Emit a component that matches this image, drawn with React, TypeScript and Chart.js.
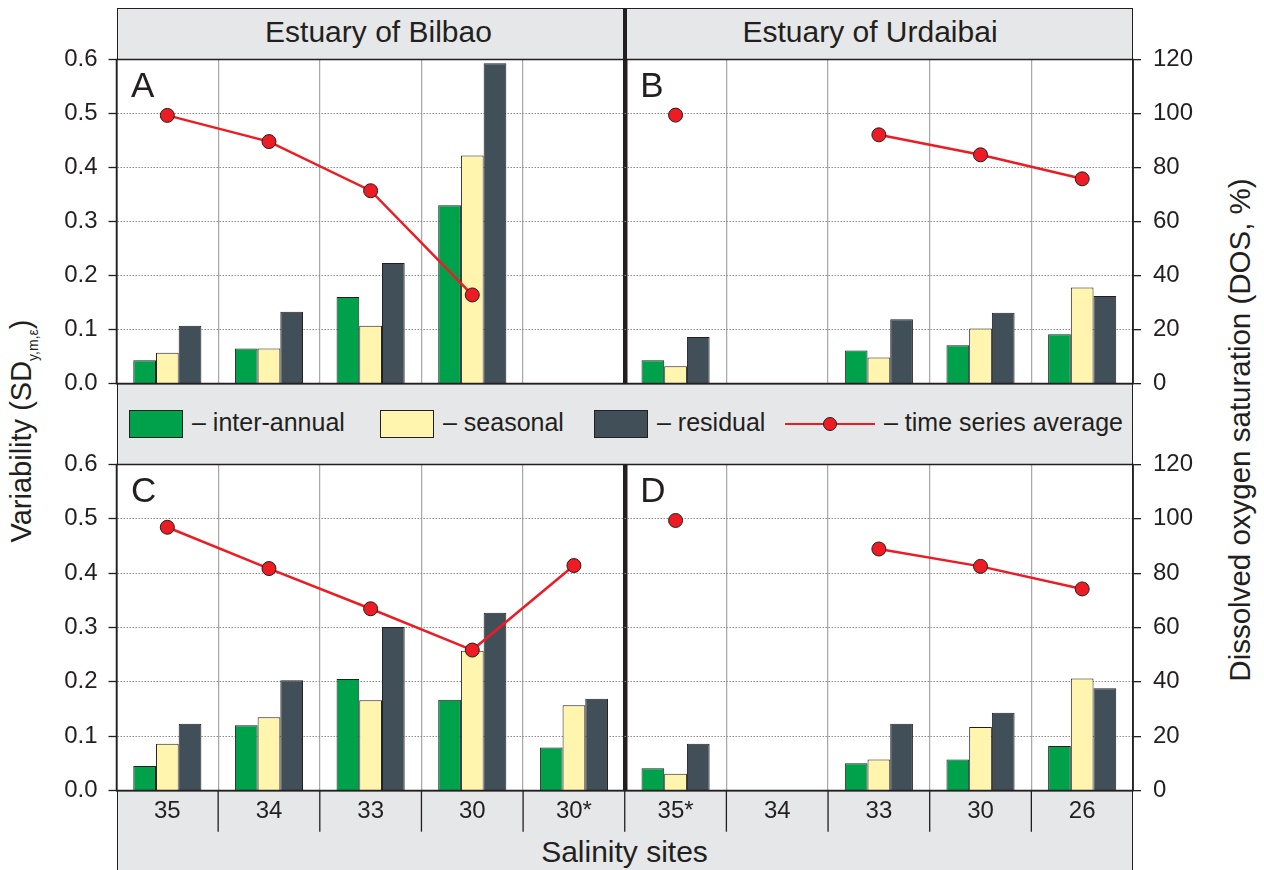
import React, { useEffect, useRef } from 'react';
import { Chart, registerables } from 'chart.js';

Chart.register(...registerables);

// ---------- data ----------
const sites = ['35', '34', '33', '30', '30*', '35*', '34', '33', '30', '26'];
const estuaries = ['Estuary of Bilbao', 'Estuary of Urdaibai'];
const seriesNames = ['inter-annual', 'seasonal', 'residual', 'time series average'];

// Panel A / B (top)
const interAnnualTop = [0.043, 0.065, 0.16, 0.33, null, 0.043, null, 0.061, 0.071, 0.091];
const seasonalTop = [0.057, 0.065, 0.107, 0.422, null, 0.032, null, 0.048, 0.102, 0.178];
const residualTop = [0.107, 0.133, 0.223, 0.593, null, 0.086, null, 0.119, 0.131, 0.162];
const dosBilbaoTop = [99.3, 89.6, 71.4, 32.8, null];
const dosUrdaibaiTop = [99.4, null, 92.1, 84.7, 75.8];

// Panel C / D (bottom)
const interAnnualBottom = [0.045, 0.12, 0.205, 0.167, 0.079, 0.041, null, 0.05, 0.057, 0.082];
const seasonalBottom = [0.086, 0.135, 0.166, 0.257, 0.157, 0.031, null, 0.057, 0.117, 0.206];
const residualBottom = [0.123, 0.203, 0.301, 0.327, 0.169, 0.086, null, 0.123, 0.143, 0.188];
const dosBilbaoBottom = [96.9, 81.7, 66.9, 51.7, 82.8];
const dosUrdaibaiBottom = [99.4, null, 88.9, 82.5, 74.2];

// ---------- style ----------
const INK = '#231f20';
const GREEN = '#00a14b';
const YELLOW = '#fff5ae';
const SLATE = '#414f58';
const RED = '#ed1c24';
const BAND = '#e6e7e8';
const FONT = '"Liberation Sans", Arial, Helvetica, sans-serif';

const none5: (number | null)[] = [null, null, null, null, null];

function decorPlugin(letters: [string, string], siteDividers: boolean) {
  return {
    id: 'panelDecor',
    afterDraw(chart: any) {
      const { ctx, chartArea: a, scales } = chart;
      const x = scales.x;
      const mid = (x.getPixelForTick(4) + x.getPixelForTick(5)) / 2;
      ctx.save();
      ctx.strokeStyle = INK;
      ctx.lineWidth = 1.5;
      ctx.strokeRect(a.left, a.top, a.right - a.left, a.bottom - a.top);
      if (siteDividers) {
        ctx.lineWidth = 1.3;
        for (let i = 1; i < sites.length; i++) {
          const px = (x.getPixelForTick(i - 1) + x.getPixelForTick(i)) / 2;
          ctx.beginPath();
          ctx.moveTo(px, a.bottom);
          ctx.lineTo(px, a.bottom + 41.2);
          ctx.stroke();
        }
      }
      ctx.fillStyle = INK;
      ctx.font = `35px ${FONT}`;
      ctx.textAlign = 'left';
      ctx.textBaseline = 'alphabetic';
      ctx.fillText(letters[0], a.left + 14.5, a.top + 37.5);
      ctx.fillText(letters[1], mid + 15.5, a.top + 37.5);
      ctx.restore();
    },
  };
}

type PanelProps = {
  top: number;
  height: number;
  padTop: number;
  xHeight: number;
  letters: [string, string];
  inter: (number | null)[];
  seasonal: (number | null)[];
  residual: (number | null)[];
  dosBilbao: (number | null)[];
  dosUrdaibai: (number | null)[];
  showSites: boolean;
};

function Panel(p: PanelProps) {
  const ref = useRef<HTMLCanvasElement>(null);
  useEffect(() => {
    const tickFont = { family: FONT, size: 24 };
    const lineCommon = {
      type: 'line' as const,
      yAxisID: 'y2',
      order: 0,
      borderColor: RED,
      borderWidth: 2.5,
      pointRadius: 7,
      pointBackgroundColor: RED,
      pointBorderColor: INK,
      pointBorderWidth: 1,
      spanGaps: false,
      fill: false,
    };
    const barCommon = { type: 'bar' as const, yAxisID: 'y', order: 1, borderColor: INK, borderWidth: 1 };
    const chart = new Chart(ref.current as HTMLCanvasElement, {
      type: 'bar',
      data: {
        labels: sites,
        datasets: [
          { ...lineCommon, label: seriesNames[3] + ' (Bilbao)', data: [...p.dosBilbao, ...none5] },
          { ...lineCommon, label: seriesNames[3] + ' (Urdaibai)', data: [...none5, ...p.dosUrdaibai] },
          { ...barCommon, label: seriesNames[0], data: p.inter, backgroundColor: GREEN },
          { ...barCommon, label: seriesNames[1], data: p.seasonal, backgroundColor: YELLOW },
          { ...barCommon, label: seriesNames[2], data: p.residual, backgroundColor: SLATE },
        ] as any,
      },
      options: {
        responsive: false,
        animation: false,
        layout: { padding: { top: p.padTop, bottom: 0, left: 0, right: 0 } },
        plugins: { legend: { display: false }, tooltip: { enabled: false } },
        datasets: { bar: { categoryPercentage: 0.67, barPercentage: 1 } },
        scales: {
          x: {
            offset: true,
            grid: {
              offset: true,
              drawTicks: false,
              color: (c: any) => (c.index === 5 ? INK : '#a9a9a9'),
              lineWidth: (c: any) => (c.index === 5 ? 4.5 : 1.25),
            },
            border: { display: true, color: INK, width: 1.5 },
            ticks: {
              display: true,
              color: p.showSites ? INK : 'rgba(0,0,0,0)',
              font: tickFont,
              padding: 6,
              maxRotation: 0,
              autoSkip: false,
            },
            afterFit: (s: any) => {
              s.height = p.xHeight;
            },
          },
          y: {
            position: 'left',
            min: 0,
            max: 0.6,
            ticks: {
              stepSize: 0.1,
              color: INK,
              font: tickFont,
              padding: 11,
              callback: (v: any) => Number(v).toFixed(1),
            },
            grid: { color: '#8c8c8c', lineWidth: 1, tickColor: INK, tickWidth: 1.3, tickLength: 8 },
            border: { display: true, color: INK, width: 1.5, dash: [1.5, 1.5] },
            afterFit: (s: any) => {
              s.width = 116.5;
            },
          },
          y2: {
            position: 'right',
            min: 0,
            max: 120,
            ticks: { stepSize: 20, color: INK, font: tickFont, padding: 12 },
            grid: { drawOnChartArea: false, color: INK, lineWidth: 1.3, tickLength: 8 },
            border: { display: true, color: INK, width: 1.5 },
            afterFit: (s: any) => {
              s.width = 131;
            },
          },
        },
      } as any,
      plugins: [decorPlugin(p.letters, p.showSites)],
    });
    return () => chart.destroy();
  }, []);
  return (
    <canvas
      ref={ref}
      width={1264}
      height={p.height}
      style={{ position: 'absolute', left: 0, top: p.top, width: 1264, height: p.height }}
    />
  );
}

const abs = (s: React.CSSProperties): React.CSSProperties => ({ position: 'absolute', boxSizing: 'border-box', ...s });

function LegendSwatch({ left, color }: { left: number; color: string }) {
  return <div style={abs({ left, top: 410, width: 54, height: 28, background: color, border: `1px solid ${INK}` })} />;
}

function LegendText({ left, text }: { left: number; text: string }) {
  return (
    <div style={abs({ left, top: 407, fontSize: 25, lineHeight: '30px', whiteSpace: 'nowrap' })}>{'\u2013 ' + text}</div>
  );
}

export default function App() {
  return (
    <div
      style={{
        position: 'absolute',
        left: 0,
        top: 0,
        width: 1264,
        height: 870,
        overflow: 'hidden',
        fontFamily: FONT,
        color: INK,
        background: '#fff',
      }}
    >
      {/* header band */}
      <div style={abs({ left: 116.5, top: 7.5, width: 1016.5, height: 52.5, background: BAND, border: `1.5px solid ${INK}` })} />
      <div style={abs({ left: 622.5, top: 7.5, width: 4.5, height: 52.5, background: INK })} />
      <div style={abs({ left: 228.5, width: 300, top: 13.5, fontSize: 30, lineHeight: '36px', textAlign: 'center', whiteSpace: 'nowrap' })}>
        {estuaries[0]}
      </div>
      <div style={abs({ left: 720, width: 300, top: 13.5, fontSize: 30, lineHeight: '36px', textAlign: 'center', whiteSpace: 'nowrap' })}>
        {estuaries[1]}
      </div>

      {/* legend band */}
      <div style={abs({ left: 116.5, top: 383.5, width: 1016.5, height: 81, background: BAND, borderLeft: `1.5px solid ${INK}`, borderRight: `1.5px solid ${INK}` })} />
      <LegendSwatch left={129} color={GREEN} />
      <LegendText left={192} text={seriesNames[0]} />
      <LegendSwatch left={380} color={YELLOW} />
      <LegendText left={443} text={seriesNames[1]} />
      <LegendSwatch left={594} color={SLATE} />
      <LegendText left={657} text={seriesNames[2]} />
      <div style={abs({ left: 785, top: 422.8, width: 90, height: 2.5, background: RED })} />
      <div style={abs({ left: 823, top: 417, width: 14, height: 14, borderRadius: 7, background: RED, border: `1px solid ${INK}` })} />
      <LegendText left={884} text={seriesNames[3]} />

      {/* site band + footer */}
      <div style={abs({ left: 116.5, top: 790.5, width: 1016.5, height: 42, background: BAND, borderLeft: `1.5px solid ${INK}`, borderRight: `1.5px solid ${INK}`, borderBottom: `1.5px solid ${INK}` })} />
      <div style={abs({ left: 116.5, top: 832, width: 1016.5, height: 40, background: BAND, borderLeft: `1.5px solid ${INK}`, borderRight: `1.5px solid ${INK}` })} />
      <div style={abs({ left: 474.5, width: 300, top: 833.5, fontSize: 30, lineHeight: '36px', textAlign: 'center', whiteSpace: 'nowrap' })}>
        Salinity sites
      </div>

      {/* axis titles */}
      <div
        style={abs({
          left: 27,
          top: 431,
          fontSize: 29,
          lineHeight: '36px',
          whiteSpace: 'nowrap',
          transform: 'translate(-50%, -50%) rotate(-90deg)',
        })}
      >
        Variability (SD<sub style={{ fontSize: 14, verticalAlign: '-0.45em' }}>y,m,ε</sub>)
      </div>
      <div
        style={abs({
          left: 1240,
          top: 430,
          fontSize: 29.5,
          lineHeight: '36px',
          whiteSpace: 'nowrap',
          transform: 'translate(-50%, -50%) rotate(-90deg)',
        })}
      >
        Dissolved oxygen saturation (DOS, %)
      </div>

      <Panel
        top={30}
        height={384}
        padTop={29.5}
        xHeight={30.5}
        letters={['A', 'B']}
        inter={interAnnualTop}
        seasonal={seasonalTop}
        residual={residualTop}
        dosBilbao={dosBilbaoTop}
        dosUrdaibai={dosUrdaibaiTop}
        showSites={false}
      />
      <Panel
        top={434}
        height={406}
        padTop={30.5}
        xHeight={49.5}
        letters={['C', 'D']}
        inter={interAnnualBottom}
        seasonal={seasonalBottom}
        residual={residualBottom}
        dosBilbao={dosBilbaoBottom}
        dosUrdaibai={dosUrdaibaiBottom}
        showSites={true}
      />
    </div>
  );
}
